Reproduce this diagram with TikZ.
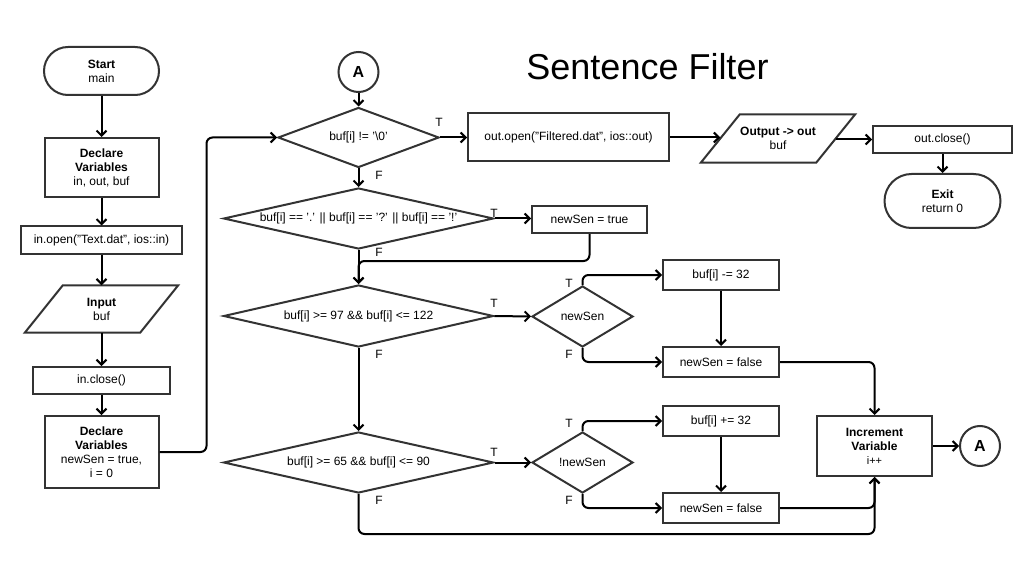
\documentclass[tikz,border=0pt]{standalone}
\usepackage{fontspec}
\setmainfont{Liberation Sans}
\usetikzlibrary{shapes.geometric,arrows.meta}
\definecolor{bc}{HTML}{333333}
\begin{document}
\begin{tikzpicture}[x=1pt,y=-1pt,
  every node/.style={font=\fontsize{12}{14}\selectfont, align=center, inner sep=0pt, text=black},
  box/.style={draw=bc, line width=2pt, rectangle},
  term/.style={draw=bc, line width=2pt, rectangle, rounded corners=#1},
  dia/.style={draw=bc, line width=2pt, diamond, aspect=4},
  para/.style={rectangle},
  conn/.style={draw=black, line width=2pt, -{Straight Barb[length=5pt,width=10pt]}, rounded corners=6pt},
  circ/.style={draw=bc, line width=2pt, circle, minimum size=40, font=\fontsize{16}{18}\selectfont\bfseries},
  lbl/.style={font=\fontsize{12}{14}\selectfont}
]
\useasboundingbox (0,0) rectangle (1029,575);

% title
\node[font=\fontsize{36}{42}\selectfont] (title) at (647.5,67) {Sentence Filter};

% left column
\node[term=24, minimum width=115, minimum height=48] (start) at (101.5,71) {\textbf{Start}\\main};
\node[box, minimum width=114, minimum height=59] (dv1) at (101.5,167.5) {\textbf{Declare}\\\textbf{Variables}\\in, out, buf};
\node[box, minimum width=161, minimum height=27] (inopen) at (101.5,240) {in.open("Text.dat", ios::in)};
\node[para, minimum width=115, minimum height=47] (input) at (101.5,309) {\textbf{Input}\\buf};
\draw[bc, line width=2pt] ([xshift=19pt]input.north west) -- ([xshift=19pt]input.north east) -- ([xshift=-19pt]input.south east) -- ([xshift=-19pt]input.south west) -- cycle;
\node[box, minimum width=137, minimum height=27] (inclose) at (101.5,380.5) {in.close()};
\node[box, minimum width=114, minimum height=72] (dv2) at (101.5,452) {\textbf{Declare}\\\textbf{Variables}\\newSen = true,\\i = 0};

% main decisions
\node[circ] (A1) at (358.5,72) {A};
\node[dia, minimum width=161, minimum height=60] (d1) at (358.5,137.5) {buf[i] != '\textbackslash 0'};
\node[dia, minimum width=270, minimum height=61] (d2) at (358.5,218.5) {buf[i] == '.' || buf[i] == '?' || buf[i] == '!'};
\node[dia, minimum width=270, minimum height=62] (d3) at (358.5,316) {buf[i] >= 97 \&\& buf[i] <= 122};
\node[dia, minimum width=270, minimum height=61] (d4) at (358.5,462.5) {buf[i] >= 65 \&\& buf[i] <= 90};

\node[box, minimum width=115, minimum height=27] (nstrue) at (589.5,219.5) {newSen = true};
\node[dia, minimum width=101, minimum height=61, aspect=1.6] (ns1) at (582.5,316.5) {newSen};
\node[dia, minimum width=101, minimum height=61, aspect=1.6] (ns2) at (582.5,462.5) {!newSen};

\node[box, minimum width=116, minimum height=30] (sub) at (721,275) {buf[i] -= 32};
\node[box, minimum width=116, minimum height=30] (false1) at (721,362) {newSen = false};
\node[box, minimum width=116, minimum height=30] (add) at (721,421) {buf[i] += 32};
\node[box, minimum width=116, minimum height=30] (false2) at (721,508) {newSen = false};

\node[box, minimum width=115, minimum height=60] (inc) at (874.5,446) {\textbf{Increment}\\\textbf{Variable}\\{\fontsize{11}{13}\selectfont i++}};
\node[circ] (A2) at (980,446) {A};

% top right
\node[box, minimum width=201, minimum height=48] (outopen) at (568.5,137.5) {out.open("Filtered.dat", ios::out)};
\node[para, minimum width=115, minimum height=48] (outpara) at (778,138.5) {\textbf{Output -> out}\\buf};
\draw[bc, line width=2pt] ([xshift=19.5pt]outpara.north west) -- ([xshift=19.5pt]outpara.north east) -- ([xshift=-19.5pt]outpara.south east) -- ([xshift=-19.5pt]outpara.south west) -- cycle;
\node[box, minimum width=139, minimum height=27] (outclose) at (942.5,139.5) {out.close()};
\node[term=27, minimum width=116, minimum height=54] (exit) at (942.5,201) {\textbf{Exit}\\return 0};

% labels
\node[lbl] (t1) at (439,122) {T};
\node[lbl] (f1) at (379,175) {F};
\node[lbl] (t2) at (494,213) {T};
\node[lbl] (f2) at (379,252) {F};
\node[lbl] (t3) at (494,303) {T};
\node[lbl] (f3) at (379,354) {F};
\node[lbl] (t4) at (494,452) {T};
\node[lbl] (f4) at (379,500) {F};
\node[lbl] (tn1) at (569,283) {T};
\node[lbl] (fn1) at (569,354) {F};
\node[lbl] (tn2) at (569,423) {T};
\node[lbl] (fn2) at (569,500) {F};

% connectors
\draw[conn] (start) -- (dv1);
\draw[conn] (dv1) -- (inopen);
\draw[conn] (inopen) -- (input);
\draw[conn] (input) -- (inclose);
\draw[conn] (inclose) -- (dv2);
\draw[conn] (dv2.east) -- ++(47,0) |- (d1.west);
\draw[conn] (A1) -- (d1.north);
\draw[conn] (d1.east) -- (outopen.west);
\draw[conn] (outopen.east) -- (outopen.east -| outpara.west);
\draw[conn] (outpara.east |- outclose.west) -- (outclose.west);
\draw[conn] (outclose) -- (exit);
\draw[conn] (d1.south) -- (d2.north);
\draw[conn] (d2.east) -- (d2.east -| nstrue.west);
\draw[conn] (nstrue.south) -- ++(0,27) -| (d3.north);
\draw[conn] (d2.south) -- (d3.north);
\draw[conn] (d3.east) -- (ns1.west);
\draw[conn] (d3.south) -- (d4.north);
\draw[conn] (d4.east) -- (ns2.west);
\draw[conn] (ns1.north) |- (sub.west);
\draw[conn] (ns1.south) |- (false1.west);
\draw[conn] (sub) -- (false1);
\draw[conn] (false1.east) -| (inc.north);
\draw[conn] (ns2.north) |- (add.west);
\draw[conn] (ns2.south) |- (false2.west);
\draw[conn] (add) -- (false2);
\draw[conn] (false2.east) -| (inc.south);
\draw[conn] (d4.south) -- ++(0,40) -| (inc.south);
\draw[conn] (inc) -- (A2);
\end{tikzpicture}
\end{document}
